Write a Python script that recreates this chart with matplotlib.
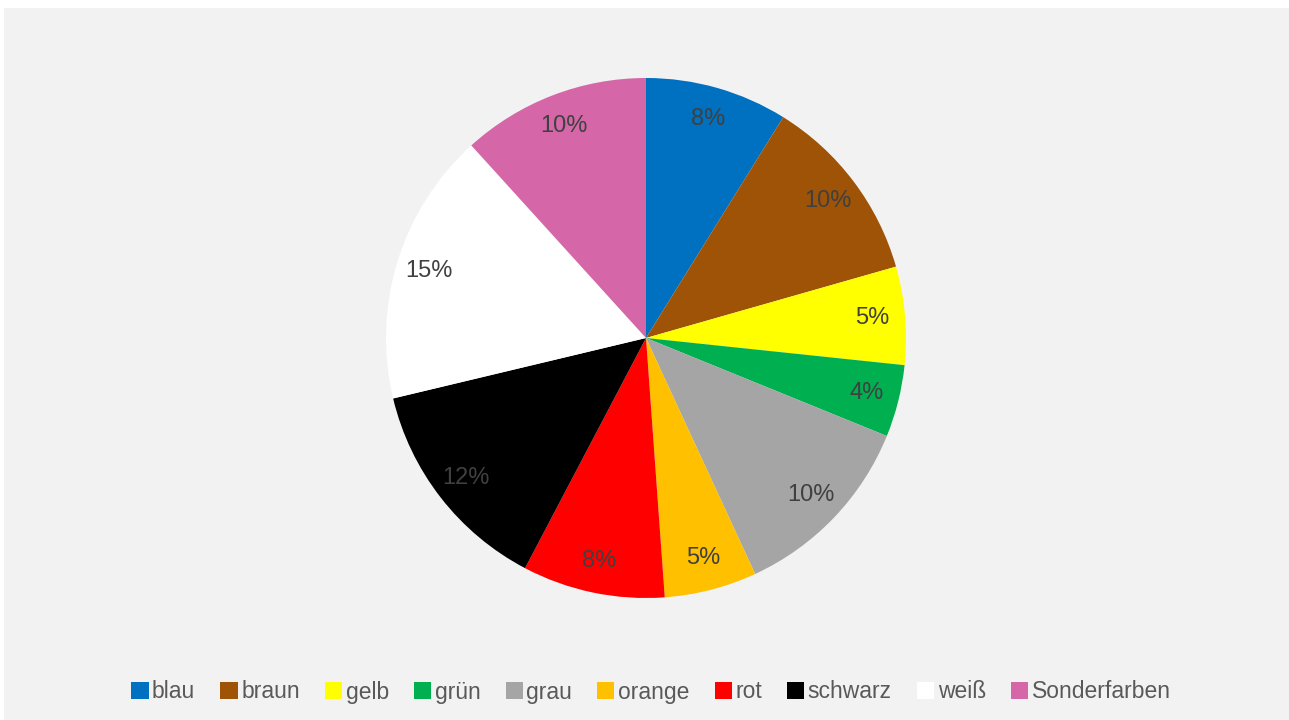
import matplotlib.pyplot as plt
from matplotlib.patches import Rectangle

# -------------------- DATA --------------------
categories = ['blau', 'braun', 'gelb', 'grün', 'grau', 'orange', 'rot', 'schwarz', 'weiß', 'Sonderfarben']
values = [7.7, 10.2, 5.3, 3.9, 10.4, 5.0, 7.7, 11.8, 14.8, 10.2]
colors = ['#0070C0', '#9E5306', '#FFFF00', '#00B050', '#A5A5A5',
          '#FFC000', '#FF0000', '#000000', '#FFFFFF', '#D567A8']

plt.rcParams['font.family'] = ['Liberation Sans', 'DejaVu Sans']

W, H = 1289, 720
fig = plt.figure(figsize=(W / 100, H / 100), dpi=100, facecolor='white')

# light gray chart area (small white margin top/left), kept behind the axes
fig.patches.append(Rectangle((4 / W, 0), 1 - 4 / W, (H - 8) / H,
                             transform=fig.transFigure, facecolor='#F2F2F2',
                             edgecolor='none', zorder=-10))

# pie axes: center (646, 338), radius 260 px
cx, cy, r = 646, 338, 260
ax = fig.add_axes([(cx - r) / W, (H - cy - r) / H, 2 * r / W, 2 * r / H])
ax.set_facecolor('none')
ax.set_zorder(5)

total = sum(values)
wedges, texts, autotexts = ax.pie(
    values, colors=colors, startangle=90, counterclock=False, radius=1,
    autopct=lambda p: f"{p * total / 100:.0f}%", pctdistance=0.875,
    wedgeprops=dict(linewidth=0),
    textprops=dict(color='#404040', fontsize=17))
ax.set_xlim(-1, 1)
ax.set_ylim(-1, 1)
ax.set_aspect('equal')

# legend along the bottom
leg = fig.legend(wedges, categories, loc='center', bbox_to_anchor=(651 / W, 1 - 692 / H),
                 ncol=len(categories), frameon=False, fontsize=16.5,
                 handlelength=0.75, handleheight=0.75, handletextpad=0.15,
                 columnspacing=1.1, labelcolor='#595959')
leg.set_zorder(6)

fig.savefig('out.png', dpi=100, facecolor=fig.get_facecolor())
